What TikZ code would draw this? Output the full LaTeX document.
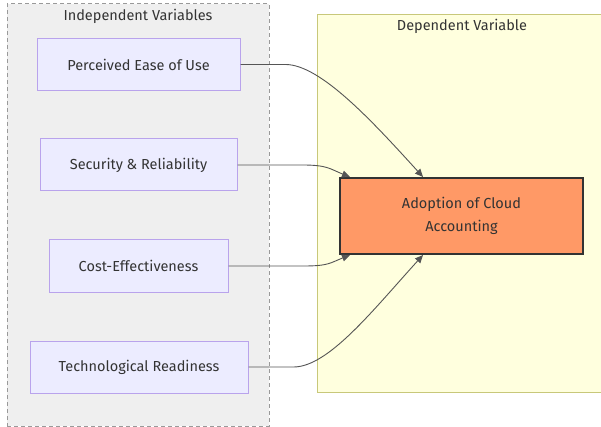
\documentclass[tikz,border=0pt]{standalone}
\usepackage{fontspec}
\setmainfont{Fira Sans}
\usetikzlibrary{arrows.meta}
\definecolor{txt}{HTML}{333333}
\definecolor{clgray}{HTML}{EFEFEF}
\definecolor{clgrayline}{HTML}{999999}
\definecolor{clyellow}{HTML}{FFFFDE}
\definecolor{clyellowline}{HTML}{C8C87A}
\definecolor{varfill}{HTML}{ECECFF}
\definecolor{varline}{HTML}{B9A3EC}
\definecolor{outfill}{HTML}{FF9966}
\definecolor{edgecol}{HTML}{555555}
\tikzset{
  cluster/.style={draw, rectangle, inner sep=0pt, line width=1pt},
  clustertitle/.style={text=txt, font=\fontsize{14.5}{17}\selectfont},
  varbox/.style={draw=varline, fill=varfill, line width=1pt, rectangle, inner sep=0pt,
    minimum height=52pt, text=txt, font=\fontsize{14.5}{17}\selectfont},
  outbox/.style={draw=txt, fill=outfill, line width=2pt, rectangle, inner sep=0pt,
    minimum width=243pt, minimum height=76pt, text=txt, align=center,
    font=\fontsize{14.5}{23}\selectfont},
  link/.style={draw=edgecol, line width=0.9pt,
    -{Triangle[length=8pt,width=7pt]}}
}
\begin{document}
\begin{tikzpicture}[x=1pt,y=-1pt]
\useasboundingbox (0,0) rectangle (601,427);
% clusters
\node[cluster, dashed, dash pattern=on 4pt off 3pt, draw=clgrayline, fill=clgray,
  minimum width=262pt, minimum height=422pt] (indep) at (138,215) {};
\node[cluster, draw=clyellowline, fill=clyellow,
  minimum width=303pt, minimum height=377pt] (dep) at (468.5,203.5) {};
\node[clustertitle] (indeptitle) at (138,16) {Independent Variables};
\node[clustertitle] (deptitle) at (462,26) {Dependent Variable};
% variables
\node[varbox, minimum width=203pt] (b1) at (138.5,64.5) {Perceived Ease of Use};
\node[varbox, minimum width=197pt] (b2) at (138.5,165) {Security \& Reliability};
\node[varbox, minimum width=179pt] (b3) at (138.5,266) {Cost-Effectiveness};
\node[varbox, minimum width=218pt] (b4) at (139,367) {Technological Readiness};
% outcome
\node[outbox] (tgt) at (461.5,216) {Adoption of Cloud\\Accounting};
\coordinate (t1) at ([xshift=84pt]tgt.north west);
\coordinate (t2) at ([xshift=11pt]tgt.north west);
\coordinate (t3) at ([xshift=11pt]tgt.south west);
\coordinate (t4) at ([xshift=84pt]tgt.south west);
% connectors
\draw[link] (b1.east) -- ++(45,0) .. controls +(35,0) and +(-50,-55) .. (t1);
\draw[link] (b2.east) -- ++(65,0) .. controls +(25,0) and +(-20,-8) .. (t2);
\draw[link] (b3.east) -- ++(75,0) .. controls +(25,0) and +(-20,8) .. (t3);
\draw[link] (b4.east) -- ++(45,0) .. controls +(35,0) and +(-50,55) .. (t4);
\end{tikzpicture}
\end{document}
